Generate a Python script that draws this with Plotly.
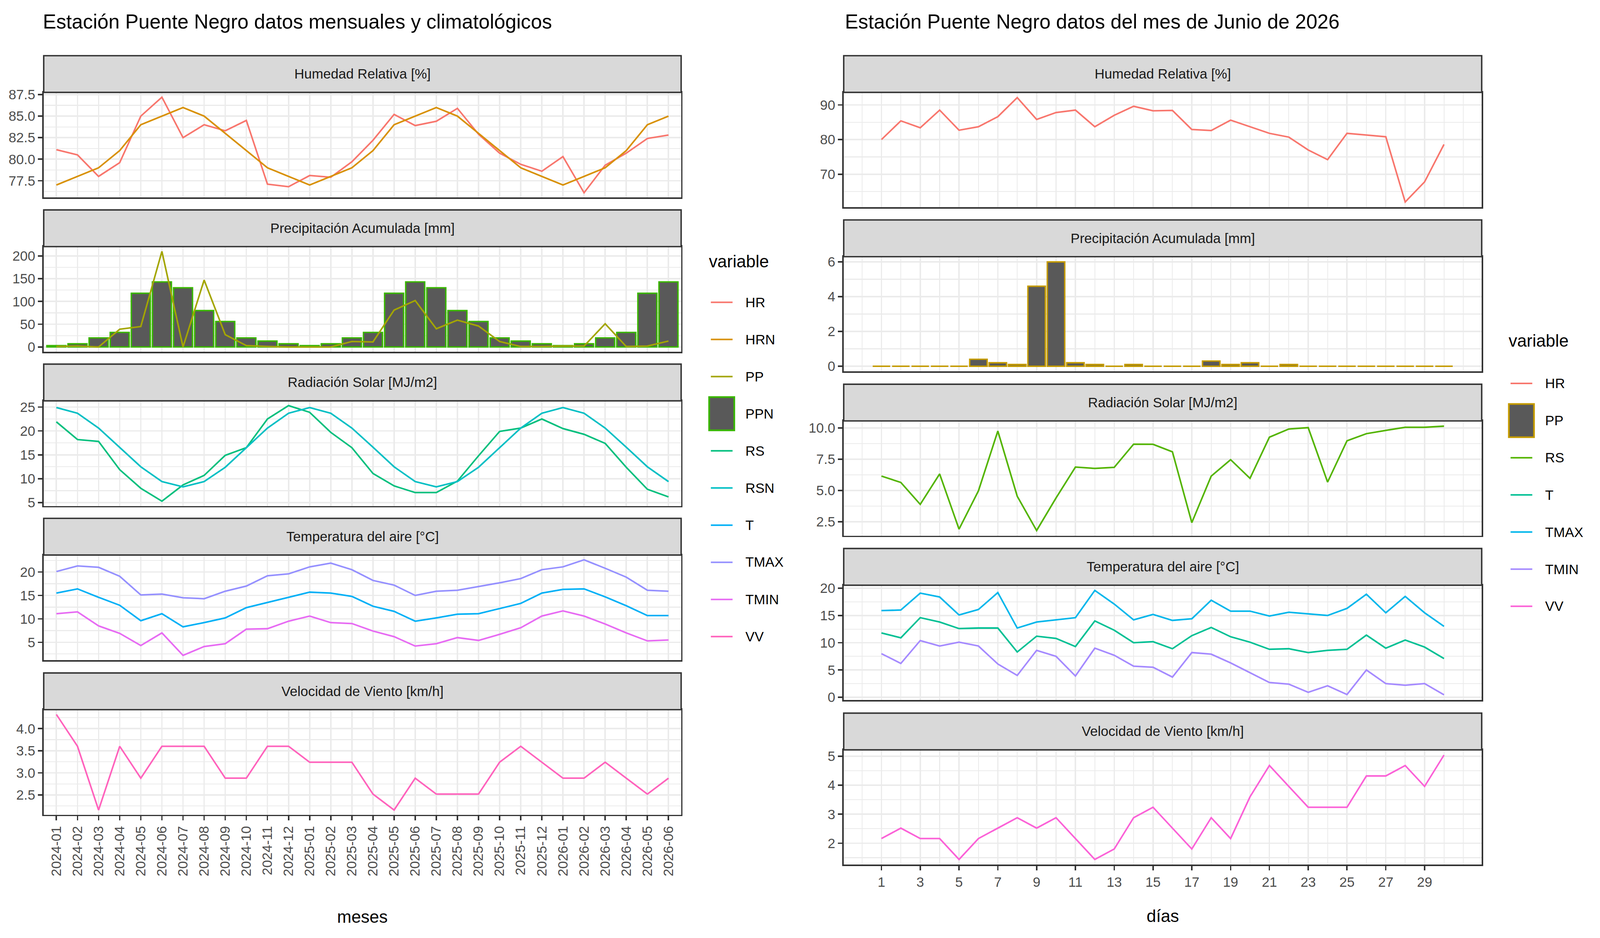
import numpy as np
import plotly.graph_objects as go

# ---- datos mensuales (2024-01 .. 2026-06) ----
meses = ['2024-01', '2024-02', '2024-03', '2024-04', '2024-05', '2024-06',
         '2024-07', '2024-08', '2024-09', '2024-10', '2024-11', '2024-12',
         '2025-01', '2025-02', '2025-03', '2025-04', '2025-05', '2025-06',
         '2025-07', '2025-08', '2025-09', '2025-10', '2025-11', '2025-12',
         '2026-01', '2026-02', '2026-03', '2026-04', '2026-05', '2026-06']

HR = [81.1, 80.5, 78.0, 79.6, 85.0, 87.2, 82.5, 84.0, 83.3, 84.5, 77.1, 76.8,
      78.1, 77.9, 79.7, 82.2, 85.2, 83.9, 84.4, 85.9, 82.9, 80.7, 79.4, 78.6,
      80.3, 76.1, 79.3, 80.7, 82.4, 82.8]
HRN = [77, 78, 79, 81, 84, 85, 86, 85, 83, 81, 79, 78,
       77, 78, 79, 81, 84, 85, 86, 85, 83, 81, 79, 78,
       77, 78, 79, 81, 84, 85]
PP = [1, 2, 0, 39, 45, 210, 0, 147, 27, 3, 1, 0,
      0, 0, 12, 11, 81, 102, 40, 59, 46, 12, 1, 1,
      2, 2, 51, 1, 2, 13]
PPN = [3, 7, 20, 32, 118, 143, 130, 80, 56, 20, 13, 7,
       3, 7, 20, 32, 118, 143, 130, 80, 56, 20, 13, 7,
       3, 7, 20, 32, 118, 143]
RS = [21.9, 18.2, 17.8, 11.9, 8.0, 5.3, 8.7, 10.7, 14.9, 16.5, 22.5, 25.3,
      23.9, 19.7, 16.5, 11.1, 8.5, 7.1, 7.1, 9.5, 14.8, 19.9, 20.6, 22.5,
      20.5, 19.3, 17.4, 12.4, 7.8, 6.2]
RSN = [24.9, 23.7, 20.6, 16.6, 12.5, 9.4, 8.3, 9.4, 12.4, 16.5, 20.6, 23.7,
       24.9, 23.7, 20.6, 16.6, 12.5, 9.4, 8.3, 9.4, 12.4, 16.5, 20.6, 23.7,
       24.9, 23.7, 20.6, 16.6, 12.5, 9.4]
T = [15.5, 16.4, 14.6, 12.9, 9.6, 11.1, 8.3, 9.2, 10.2, 12.4, 13.5, 14.6,
     15.7, 15.5, 14.8, 12.7, 11.6, 9.5, 10.2, 11.0, 11.1, 12.2, 13.3, 15.5,
     16.3, 16.4, 14.7, 12.8, 10.7, 10.7]
TMAX = [20.1, 21.3, 21.0, 19.1, 15.1, 15.3, 14.5, 14.3, 15.9, 17.0, 19.2, 19.6,
        21.1, 21.9, 20.5, 18.2, 17.2, 15.0, 15.9, 16.1, 16.9, 17.7, 18.6, 20.5,
        21.1, 22.6, 20.8, 18.9, 16.1, 15.9]
TMIN = [11.1, 11.5, 8.5, 6.9, 4.3, 7.0, 2.2, 4.1, 4.7, 7.8, 7.9, 9.5,
        10.6, 9.2, 9.0, 7.4, 6.2, 4.2, 4.7, 6.0, 5.4, 6.7, 8.1, 10.6,
        11.7, 10.6, 8.9, 7.0, 5.3, 5.5]
VV = [4.32, 3.60, 2.16, 3.60, 2.88, 3.60, 3.60, 3.60, 2.88, 2.88, 3.60, 3.60,
      3.24, 3.24, 3.24, 2.52, 2.16, 2.88, 2.52, 2.52, 2.52, 3.24, 3.60, 3.24,
      2.88, 2.88, 3.24, 2.88, 2.52, 2.88]

# ---- datos diarios junio 2026 ----
dias = list(range(1, 31))
HR_d = [80.0, 85.4, 83.4, 88.5, 82.7, 83.7, 86.6, 92.1, 85.8, 87.8,
        88.5, 83.7, 87.0, 89.6, 88.3, 88.4, 82.9, 82.6, 85.6, 83.7,
        81.8, 80.7, 77.0, 74.2, 81.8, 81.3, 80.8, 62.0, 67.8, 78.6]
PP_d = [0, 0, 0, 0, 0, 0.4, 0.2, 0.1, 4.6, 6.0,
        0.2, 0.1, 0, 0.1, 0, 0, 0, 0.3, 0.1, 0.2,
        0, 0.1, 0, 0, 0, 0, 0, 0, 0, 0]
RS_d = [6.15, 5.64, 3.89, 6.32, 1.91, 4.97, 9.75, 4.54, 1.80, 4.40,
        6.87, 6.76, 6.85, 8.70, 8.69, 8.09, 2.43, 6.15, 7.46, 5.97,
        9.26, 9.91, 10.02, 5.67, 8.97, 9.54, 9.80, 10.05, 10.05, 10.14]
T_d = [11.8, 10.9, 14.6, 13.8, 12.6, 12.7, 12.7, 8.3, 11.2, 10.8,
       9.3, 14.0, 12.3, 10.0, 10.2, 8.9, 11.3, 12.8, 11.1, 10.1,
       8.8, 8.9, 8.2, 8.6, 8.8, 11.4, 9.0, 10.5, 9.2, 7.1]
TMAX_d = [15.9, 16.0, 19.1, 18.4, 15.1, 16.1, 19.2, 12.7, 13.8, 14.2,
          14.6, 19.6, 17.1, 14.2, 15.2, 14.1, 14.4, 17.8, 15.8, 15.8,
          14.9, 15.6, 15.3, 15.0, 16.3, 18.9, 15.5, 18.5, 15.5, 13.0]
TMIN_d = [8.0, 6.2, 10.4, 9.4, 10.1, 9.4, 6.1, 4.0, 8.6, 7.5,
          3.9, 9.0, 7.7, 5.7, 5.5, 3.7, 8.2, 7.9, 6.3, 4.5,
          2.7, 2.4, 0.9, 2.1, 0.5, 5.0, 2.5, 2.2, 2.5, 0.45]
VV_d = [2.16, 2.52, 2.16, 2.16, 1.44, 2.16, 2.52, 2.88, 2.52, 2.88,
        2.16, 1.44, 1.80, 2.88, 3.24, 2.52, 1.80, 2.88, 2.16, 3.60,
        4.68, 3.96, 3.24, 3.24, 3.24, 4.32, 4.32, 4.68, 3.96, 5.04]

paneles = ['Humedad Relativa [%]', 'Precipitación Acumulada [mm]',
           'Radiación Solar [MJ/m2]', 'Temperatura del aire [°C]',
           'Velocidad de Viento [km/h]']

# colores ggplot (hue) para 10 y 7 niveles
col_izq = {'HR': '#F8766D', 'HRN': '#D89000', 'PP': '#A3A500', 'PPN': '#39B600',
           'RS': '#00BF7D', 'RSN': '#00BFC4', 'T': '#00B0F6', 'TMAX': '#9590FF',
           'TMIN': '#E76BF3', 'VV': '#FF62BC'}
col_der = {'HR': '#F8766D', 'PP': '#C49A00', 'RS': '#53B400', 'T': '#00C094',
           'TMAX': '#00B6EB', 'TMIN': '#A58AFF', 'VV': '#FB61D7'}

W, H = 5600, 2400
F = 'Liberation Sans, Arial, sans-serif'
LW = 5.5


def fx(p):
    return p / W


def fy(p):
    return 1 - p / H


def rango(*series):
    v = np.concatenate([np.asarray(s, float) for s in series])
    lo, hi = v.min(), v.max()
    d = (hi - lo) * 0.05
    return [lo - d, hi + d]


fig = go.Figure()


def linea(x, y, color, n):
    fig.add_trace(go.Scatter(x=x, y=y, mode='lines', line=dict(color=color, width=LW),
                             xaxis='x' + ('' if n == 1 else str(n)),
                             yaxis='y' + ('' if n == 1 else str(n)), showlegend=False))


def barras(x, y, borde, n):
    fig.add_trace(go.Bar(x=x, y=y, width=0.9, marker=dict(color='#595959', line=dict(color=borde, width=5)),
                         xaxis='x' + ('' if n == 1 else str(n)),
                         yaxis='y' + ('' if n == 1 else str(n)), showlegend=False))


# panel izquierdo
linea(meses, HR, col_izq['HR'], 1)
linea(meses, HRN, col_izq['HRN'], 1)
barras(meses, PPN, col_izq['PPN'], 2)
linea(meses, PP, col_izq['PP'], 2)
linea(meses, RS, col_izq['RS'], 3)
linea(meses, RSN, col_izq['RSN'], 3)
linea(meses, T, col_izq['T'], 4)
linea(meses, TMAX, col_izq['TMAX'], 4)
linea(meses, TMIN, col_izq['TMIN'], 4)
linea(meses, VV, col_izq['VV'], 5)

# panel derecho
linea(dias, HR_d, col_der['HR'], 6)
barras(dias, PP_d, col_der['PP'], 7)
linea(dias, RS_d, col_der['RS'], 8)
linea(dias, T_d, col_der['T'], 9)
linea(dias, TMAX_d, col_der['TMAX'], 9)
linea(dias, TMIN_d, col_der['TMIN'], 9)
linea(dias, VV_d, col_der['VV'], 10)

rangos_y = [rango(HR, HRN), rango(PP, PPN, [0]), rango(RS, RSN), rango(T, TMAX, TMIN), rango(VV),
            rango(HR_d), rango(PP_d, [0]), rango(RS_d), rango(T_d, TMAX_d, TMIN_d), rango(VV_d)]
dticks = [2.5, 50, 5, 5, 0.5, 10, 2, 2.5, 5, 1]
formatos = ['.1f', '', '', '', '.1f', '', '', '.1f', '', '']

izq_x = (153, 2384)
izq_tops = [225, 624, 1023, 1422, 1822]
izq_alto = 272
der_x = (2953, 5186)
der_tops = [225, 650, 1075, 1500, 1926]
der_alto = 297
alto_strip = 95

rx_d = [dias[0] - 0.45, dias[-1] + 0.45]
d = (rx_d[1] - rx_d[0]) * 0.05
rx_d = [rx_d[0] - d, rx_d[1] + d]

borde = dict(showline=True, mirror=True, linecolor='#333333', linewidth=5,
             zeroline=False, gridcolor='#EBEBEB', gridwidth=5)
tickf = dict(family=F, size=48, color='#4D4D4D')

lay = {}
shapes = []
annots = []
for i in range(10):
    n = i + 1
    izq = i < 5
    k = i % 5
    xs = izq_x if izq else der_x
    top = (izq_tops if izq else der_tops)[k]
    alto = izq_alto if izq else der_alto
    xd = [fx(xs[0]), fx(xs[1])]
    yd = [fy(top + alto), fy(top)]
    ultimo = k == 4
    xa = dict(domain=xd, anchor='y' + ('' if n == 1 else str(n)), **borde)
    if izq:
        xa.update(type='category', range=[-0.6, len(meses) - 0.4],
                  tickmode='array', tickvals=meses, ticktext=meses)
        if ultimo:
            xa.update(tickangle=-90)
    else:
        xa.update(range=rx_d, tickmode='array', tickvals=dias[::2],
                  minor=dict(dtick=1, tick0=0, showgrid=True, gridcolor='#EBEBEB', gridwidth=2.5))
    if ultimo:
        xa.update(ticks='outside', ticklen=15, tickwidth=5, tickcolor='#333333',
                  showticklabels=True, tickfont=tickf)
    else:
        xa.update(ticks='', showticklabels=False)
    ya = dict(domain=yd, anchor='x' + ('' if n == 1 else str(n)), range=rangos_y[i],
              tickmode='linear', tick0=0, dtick=dticks[i], tickformat=formatos[i],
              ticks='outside', ticklen=15, tickwidth=5, tickcolor='#333333', tickfont=tickf,
              minor=dict(dtick=dticks[i] / 2, tick0=0, showgrid=True, gridcolor='#EBEBEB',
                         gridwidth=2.5, ticks=''), **borde)
    lay['xaxis' + ('' if n == 1 else str(n))] = xa
    lay['yaxis' + ('' if n == 1 else str(n))] = ya
    # strip
    shapes.append(dict(type='rect', xref='paper', yref='paper', x0=xd[0], x1=xd[1],
                       y0=fy(top), y1=fy(top - alto_strip), fillcolor='#D9D9D9',
                       line=dict(color='#333333', width=5), layer='above'))
    annots.append(dict(xref='paper', yref='paper', x=(xd[0] + xd[1]) / 2,
                       y=fy(top - alto_strip / 2), text=paneles[k], showarrow=False,
                       font=dict(family=F, size=48, color='#1A1A1A'),
                       xanchor='center', yanchor='middle'))

# titulos
annots.append(dict(xref='paper', yref='paper', x=fx(148), y=fy(42), xanchor='left', yanchor='middle',
                   text='Estación Puente Negro datos mensuales y climatológicos', showarrow=False,
                   font=dict(family=F, size=70, color='black')))
annots.append(dict(xref='paper', yref='paper', x=fx(2955), y=fy(42), xanchor='left', yanchor='middle',
                   text='Estación Puente Negro datos del mes de Junio de 2026', showarrow=False,
                   font=dict(family=F, size=70, color='black')))
annots.append(dict(xref='paper', yref='paper', x=fx(sum(izq_x) / 2), y=fy(2358), xanchor='center',
                   yanchor='middle', text='meses', showarrow=False,
                   font=dict(family=F, size=60, color='black')))
annots.append(dict(xref='paper', yref='paper', x=fx(sum(der_x) / 2), y=fy(2356), xanchor='center',
                   yanchor='middle', text='días', showarrow=False,
                   font=dict(family=F, size=60, color='black')))


# leyendas dibujadas a mano
def leyenda(x0, y_titulo, y0, nombres, colores, barra):
    annots.append(dict(xref='paper', yref='paper', x=fx(x0), y=fy(y_titulo), xanchor='left',
                       yanchor='middle', text='variable', showarrow=False,
                       font=dict(family=F, size=60, color='black')))
    for j, nom in enumerate(nombres):
        yc = y0 + 96.1 * j
        if nom == barra:
            shapes.append(dict(type='rect', xref='paper', yref='paper', x0=fx(x0 + 3), x1=fx(x0 + 91),
                               y0=fy(yc + 43), y1=fy(yc - 43), fillcolor='#595959',
                               line=dict(color=colores[nom], width=6)))
        else:
            shapes.append(dict(type='line', xref='paper', yref='paper', x0=fx(x0 + 9), x1=fx(x0 + 85),
                               y0=fy(yc), y1=fy(yc), line=dict(color=colores[nom], width=LW)))
        annots.append(dict(xref='paper', yref='paper', x=fx(x0 + 128), y=fy(yc), xanchor='left',
                           yanchor='middle', text=nom, showarrow=False,
                           font=dict(family=F, size=48, color='black')))


leyenda(2479, 662, 768, list(col_izq), col_izq, 'PPN')
leyenda(5278, 868, 978, list(col_der), col_der, 'PP')

fig.update_layout(width=W, height=H, margin=dict(l=0, r=0, t=0, b=0),
                  plot_bgcolor='white', paper_bgcolor='white', showlegend=False,
                  shapes=shapes, annotations=annots, barmode='overlay', **lay)

# ajustar la figura de 5600 px a la ventana real: primero el alto, luego el zoom
ajuste = """
document.documentElement.style.margin = '0';
document.body.style.margin = '0';
document.body.style.overflow = 'hidden';
var gd = document.getElementById('{plot_id}');
var s = window.innerWidth / 5600;
var h = Math.round(window.innerHeight / s);
var aplicar = function () { document.body.style.zoom = s; };
if (Math.abs(h - 2400) > 4) {
    Plotly.relayout(gd, {height: h}).then(aplicar);
} else {
    aplicar();
}
"""
fig.write_html("out.html", config={'displayModeBar': False}, post_script=ajuste)
